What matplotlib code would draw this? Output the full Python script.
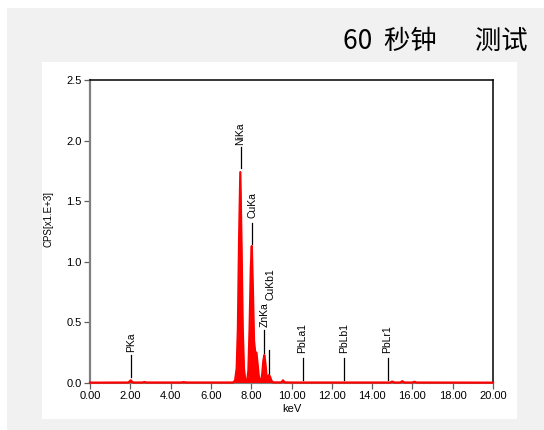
import matplotlib
matplotlib.use("Agg")
import matplotlib.pyplot as plt
from matplotlib.patches import Rectangle

# spectrum (keV, CPS x1e3)
energy = [0.00, 0.30, 1.90, 1.96, 2.02, 2.08, 2.14, 2.60, 2.70, 2.80, 4.50, 4.65, 4.80,
          7.10, 7.20, 7.28, 7.34, 7.40, 7.46, 7.52, 7.58, 7.64, 7.70, 7.76, 7.80,
          7.86, 7.92, 7.98, 8.03, 8.08, 8.14, 8.20, 8.26, 8.32, 8.38, 8.45, 8.50,
          8.55, 8.60, 8.65, 8.70, 8.76, 8.82, 8.88, 8.94, 9.00, 9.08,
          9.50, 9.58, 9.66, 10.00, 14.90, 15.00, 15.10, 15.40, 15.50, 15.60,
          16.00, 16.10, 16.20, 20.00]
counts = [0.003, 0.003, 0.004, 0.012, 0.022, 0.012, 0.004, 0.004, 0.008, 0.004, 0.004, 0.007, 0.004,
          0.004, 0.02, 0.12, 0.45, 1.20, 1.74, 1.15, 0.45, 0.12, 0.03, 0.01, 0.02,
          0.10, 0.45, 0.95, 1.13, 0.80, 0.35, 0.25, 0.25, 0.15, 0.05, 0.01, 0.02,
          0.08, 0.18, 0.23, 0.17, 0.06, 0.04, 0.065, 0.05, 0.02, 0.005,
          0.005, 0.022, 0.005, 0.004, 0.004, 0.012, 0.004, 0.004, 0.015, 0.004,
          0.004, 0.010, 0.004, 0.003]

# peak markers: name, energy, line top/bottom, label x, label bottom
peak_names = ["PKa", "NiKa", "CuKa", "ZnKa", "CuKb1", "PbLa1", "PbLb1", "PbLr1"]
peak_kev = [2.02, 7.47, 8.04, 8.63, 8.90, 10.55, 12.62, 14.77]
line_top = [0.23, 1.95, 1.32, 0.44, 0.27, 0.21, 0.21, 0.21]
line_bot = [0.047, 1.77, 1.15, 0.25, 0.066, 0.025, 0.025, 0.025]
label_kev = [2.02, 7.47, 8.04, 8.68, 8.98, 10.55, 12.62, 14.77]
label_y = [0.258, 1.96, 1.36, 0.46, 0.685, 0.25, 0.25, 0.25]

xticks = [0, 2, 4, 6, 8, 10, 12, 14, 16, 18, 20]
yticks = [0.0, 0.5, 1.0, 1.5, 2.0, 2.5]
title = "60  秒钟\u3000  测试"

fig = plt.figure(figsize=(5.44, 4.3), dpi=100)
fig.patches.append(Rectangle((7 / 544, 0), 1, 1 - 8 / 430, transform=fig.transFigure,
                             facecolor="#f1f1f1", edgecolor="none", zorder=-2))
fig.patches.append(Rectangle((42 / 544, 1 - 419 / 430), 475 / 544, 357 / 430,
                             transform=fig.transFigure, facecolor="white",
                             edgecolor="none", zorder=-1))

ax = fig.add_axes([90 / 544, 1 - 383 / 430, 403 / 544, 303 / 430])
ax.set_facecolor("white")
ax.fill_between(energy, counts, 0, color="#ff0000", linewidth=0)
ax.plot(energy, counts, color="#ff0000", lw=1.6, clip_on=False, zorder=3)

for name, e, top, bot, lx, ly in zip(peak_names, peak_kev, line_top, line_bot, label_kev, label_y):
    ax.plot([e, e], [bot, top], color="black", lw=0.9)
    ax.text(lx, ly, name, rotation=90, ha="center", va="bottom", fontsize=7.5,
            family=["Liberation Sans", "DejaVu Sans"])

ax.set_xlim(0, 20)
ax.set_ylim(0, 2.5)
ax.set_xticks(xticks)
ax.set_xticklabels([f"{t:.2f}" for t in xticks])
ax.set_yticks(yticks)
ax.set_yticklabels([f"{t:.1f}" for t in yticks])
ax.tick_params(axis="both", direction="out", length=4, width=0.9, color="#606060",
               labelsize=8, pad=2)
for lab in ax.get_xticklabels() + ax.get_yticklabels():
    lab.set_family(["Liberation Sans", "DejaVu Sans"])

ax.spines["left"].set_color("#808080")
ax.spines["left"].set_linewidth(1.6)
ax.spines["top"].set_color("black")
ax.spines["right"].set_color("black")
ax.spines["top"].set_linewidth(1.1)
ax.spines["right"].set_linewidth(1.1)
ax.spines["bottom"].set_color("#808080")

ax.set_xlabel("keV", fontsize=8, family=["Liberation Sans", "DejaVu Sans"], labelpad=2)
fig.text(48 / 544, 1 - 219 / 430, "CPS[x1.E+3]", rotation=90, ha="center", va="center",
         fontsize=7, family=["Liberation Sans", "DejaVu Sans"])

fig.text(528 / 544, 1 - 41 / 430, title, ha="right", va="center", fontsize=19,
         family=["Noto Sans CJK SC", "DejaVu Sans"])

fig.savefig("out.png", dpi=100)
